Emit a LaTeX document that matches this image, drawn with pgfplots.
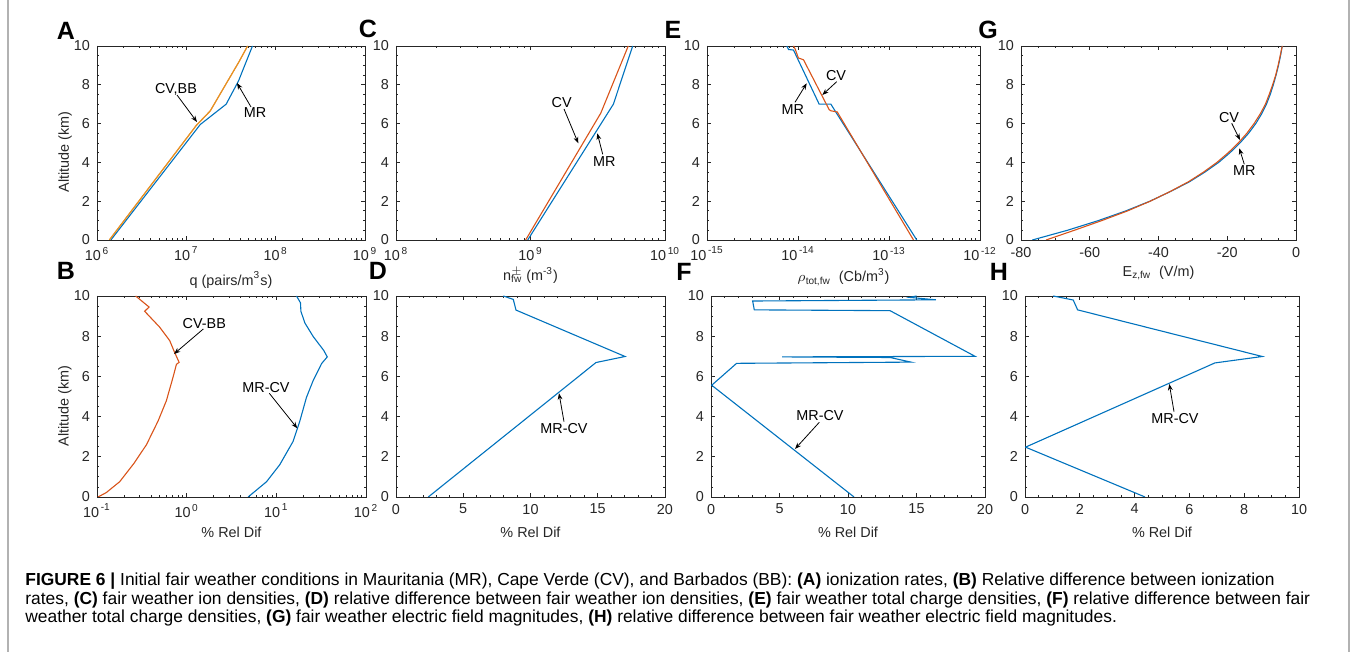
\documentclass[border=0pt]{standalone}
\usepackage{fontspec}
\setmainfont{Liberation Sans}
\usepackage{pgfplots}
\pgfplotsset{compat=1.18}
\usetikzlibrary{arrows.meta}

\definecolor{mrblue}{RGB}{0,114,189}
\definecolor{cvorange}{RGB}{217,83,25}
\definecolor{bbyellow}{RGB}{237,177,32}
\definecolor{axgray}{RGB}{38,38,38}

\newcommand{\fs}{\fontsize{7.2pt}{8.6pt}\selectfont}
\newcommand{\tp}[1]{10\textsuperscript{\,#1}}

\pgfplotsset{
  panel/.style={
    scale only axis, anchor=south west,
    ymin=0, ymax=10, ytick={0,2,...,10}, minor y tick num=3,
    axis line style={axgray, line width=0.45pt},
    tick style={axgray, line width=0.4pt},
    major tick length=2pt, minor tick length=1.2pt,
    tick label style={font=\fs, text=axgray},
    label style={font=\fs, text=axgray},
    xlabel style={at={(axis description cs:0.5,0)}, anchor=center},
    ylabel style={anchor=center},
    /pgf/number format/assume math mode=true,
    every axis plot/.append style={line width=0.55pt, no markers},
  },
  toprow/.style={panel, height=97pt},
  botrow/.style={panel, height=100.5pt},
}

\begin{document}
\begin{tikzpicture}
\path[use as bounding box] (0,0) rectangle (678pt,326pt);

% ---- A: ionization rates
\begin{axis}[toprow, at={(48.5pt,206pt)}, width=134pt,
  xmode=log, xmin=1e6, xmax=1e9, xtick={1e6,1e7,1e8,1e9},
  xticklabels={\tp{6},\tp{7},\tp{8},\tp{9}},
  xlabel={q (pairs/m\textsuperscript{3}s)}, xlabel style={yshift=-20pt},
  ylabel={Altitude (km)}, ylabel style={at={(axis description cs:-0.119,0.454)}}]
\addplot[mrblue] coordinates {(1.43e6,0) (1.43e7,5.95) (2.79e7,7.0) (3.84e7,8.2) (5.5e7,10)};
\addplot[cvorange] coordinates {(1.375e6,0) (1.29e7,5.9) (1.85e7,6.65) (3.9e7,9.2) (4.85e7,10)};
\addplot[bbyellow, opacity=0.7] coordinates {(1.375e6,0) (1.29e7,5.9) (1.85e7,6.65) (3.9e7,9.2) (4.85e7,10)};
\end{axis}

% ---- C: ion densities
\begin{axis}[toprow, at={(198pt,206pt)}, width=134.5pt,
  xmode=log, xmin=1e8, xmax=1e10, xtick={1e8,1e9,1e10},
  xticklabels={\tp{8},\tp{9},\tp{10}},
  xlabel={n\rlap{\textsuperscript{$\pm$}}\textsubscript{fw} (m\textsuperscript{-3})}, xlabel style={yshift=-17.5pt}]
\addplot[mrblue] coordinates {(9.53e8,0) (4.13e9,7.0) (5.75e9,10)};
\addplot[cvorange] coordinates {(9.2e8,0) (3.33e9,6.54) (5.33e9,10)};
\end{axis}

% ---- E: total charge densities
\begin{axis}[toprow, at={(353.5pt,206pt)}, width=136.5pt,
  xmode=log, xmin=1e-15, xmax=1e-12, xtick={1e-15,1e-14,1e-13,1e-12},
  xticklabels={\tp{-15},\tp{-14},\tp{-13},\tp{-12}},
  xlabel={$\rho$\textsubscript{tot,fw}\ \ (Cb/m\textsuperscript{3})}, xlabel style={yshift=-18.5pt}]
\addplot[mrblue] coordinates {(2.02e-13,0) (2.56e-14,6.65) (2.30e-14,7.0) (1.71e-14,7.0) (8.93e-15,9.79) (7.87e-15,9.82) (7.55e-15,10)};
\addplot[cvorange] coordinates {(1.86e-13,0) (2.7e-14,6.6) (2.3e-14,6.66) (2.2e-14,6.72) (1.15e-14,9.29) (1.01e-14,9.38) (9.3e-15,9.85) (8.93e-15,10)};
\end{axis}

% ---- G: electric field
\begin{axis}[toprow, at={(510.5pt,206pt)}, width=137.5pt,
  xmin=-80, xmax=0, xtick={-80,-60,-40,-20,0}, minor x tick num=3,
  xticklabels={-80,-60,-40,-20,0},
  xlabel={E\textsubscript{z,fw}\ \ (V/m)}, xlabel style={yshift=-16.5pt}]
\addplot[mrblue] coordinates {(-76.7,0) (-66.5,0.5) (-57.5,1) (-49.5,1.5) (-42.5,2) (-36.5,2.5) (-31.0,3) (-26.5,3.5) (-22.5,4) (-19.2,4.5) (-16.3,5) (-13.8,5.5) (-11.7,6) (-10.0,6.5) (-8.6,7) (-7.5,7.5) (-6.6,8) (-5.8,8.5) (-5.1,9) (-4.5,9.5) (-4.0,10)};
\addplot[cvorange] coordinates {(-72.7,0) (-64.5,0.5) (-56.5,1) (-49.0,1.5) (-42.4,2) (-36.6,2.5) (-31.3,3) (-26.9,3.5) (-23.0,4) (-19.7,4.5) (-16.8,5) (-14.3,5.5) (-12.2,6) (-10.4,6.5) (-8.9,7) (-7.8,7.5) (-6.8,8) (-5.9,8.5) (-5.2,9) (-4.6,9.5) (-4.0,10)};
\end{axis}

% ---- B: rel. dif. ionization
\begin{axis}[botrow, at={(48.5pt,77.5pt)}, width=134.5pt,
  xmode=log, xmin=1e-1, xmax=1e2, xtick={1e-1,1e0,1e1,1e2},
  xticklabels={\tp{-1},\tp{0},\tp{1},\tp{2}},
  xlabel={\% Rel Dif}, xlabel style={yshift=-17.5pt},
  ylabel={Altitude (km)}, ylabel style={at={(axis description cs:-0.119,0.453)}}]
\addplot[cvorange] coordinates {(0.1026,0) (0.127,0.22) (0.179,0.76) (0.259,1.68) (0.356,2.6) (0.48,3.78) (0.594,4.79) (0.706,5.97) (0.769,6.6) (0.824,6.7) (0.736,7.18) (0.647,7.78) (0.50,8.45) (0.34,9.24) (0.381,9.45) (0.27,10)};
\addplot[mrblue] coordinates {(4.85,0) (7.78,0.76) (10.9,1.6) (15.4,2.77) (18.3,3.78) (21.7,4.96) (25.8,5.8) (32.0,6.64) (37.0,6.97) (33.7,7.3) (25.8,7.98) (20.8,8.66) (18.8,9.24) (18.6,9.66) (16.8,10)};
\end{axis}

% ---- D
\begin{axis}[botrow, at={(198pt,77.5pt)}, width=134.5pt,
  xmin=0, xmax=20, xtick={0,5,...,20}, minor x tick num=4,
  xlabel={\% Rel Dif}, xlabel style={yshift=-17.5pt}]
\addplot[mrblue] coordinates {(2.40,0) (14.87,6.69) (17.03,6.99) (8.92,9.3) (8.72,9.83) (7.98,10)};
\end{axis}

% ---- F
\begin{axis}[botrow, at={(355.5pt,77.5pt)}, width=137pt,
  xmin=0, xmax=20, xtick={0,5,...,20}, minor x tick num=4,
  xlabel={\% Rel Dif}, xlabel style={yshift=-17.5pt}]
\addplot[mrblue] coordinates {(10.44,0) (0.05,5.56) (1.87,6.65) (14.6,6.71) (13.07,6.94) (5.2,6.97) (19.27,7.0) (13.07,9.27) (3.16,9.31) (3.04,9.75) (16.42,9.81) (14.5,9.93) (15.0,10)};
\end{axis}

% ---- H
\begin{axis}[botrow, at={(512.5pt,77.5pt)}, width=137pt,
  xmin=0, xmax=10, xtick={0,2,...,10}, minor x tick num=3,
  xlabel={\% Rel Dif}, xlabel style={yshift=-17.5pt}]
\addplot[mrblue] coordinates {(4.38,0) (0.02,2.48) (6.93,6.67) (8.66,6.99) (1.92,9.31) (1.76,9.8) (1.03,10)};
\end{axis}

% ---- letters, annotations, caption (pixel coordinates)
\begin{scope}[x=0.5pt, y=-0.5pt, yshift=326pt]
\draw[gray!60, line width=0.6pt] (8,0) -- (8,652) (1349,0) -- (1349,652);

\begin{scope}[font=\fontsize{12.5pt}{14pt}\selectfont\bfseries]
\node at (66,31) {A};
\node at (66,271) {B};
\node at (368,29) {C};
\node at (378,271) {D};
\node at (673,30) {E};
\node at (684,272) {F};
\node at (988,30) {G};
\node at (999,272) {H};
\end{scope}

\begin{scope}[font=\fs, every node/.style={inner sep=0pt}, >={Stealth[length=3.2pt,width=2.4pt]}, line width=0.4pt]
\node at (176,89) {CV,BB}; \draw[->] (177,95) -- (197,122);
\node at (255,113) {MR}; \draw[->] (251,107) -- (237,83);
\node at (561.7,102.7) {CV}; \draw[->] (564,109) -- (578.3,143.3);
\node at (604.3,161.7) {MR}; \draw[->] (602.7,154.3) -- (597.3,133.3);
\node at (836,76) {CV}; \draw[->] (836.7,81.7) -- (822.3,95);
\node at (792.7,109.3) {MR}; \draw[->] (795,102.3) -- (806.7,83.3);
\node at (1229,117.3) {CV}; \draw[->] (1231.7,123.3) -- (1240,140);
\node at (1244.3,171) {MR}; \draw[->] (1244.3,164.3) -- (1239.3,148.3);
\node at (204.3,323.3) {CV-BB}; \draw[->] (203.3,329) -- (174,354);
\node at (266,387.3) {MR-CV}; \draw[->] (269.3,393.3) -- (297.3,428.3);
\node at (564,428.3) {MR-CV}; \draw[->] (564,421.7) -- (559,393.3);
\node at (820,416) {MR-CV}; \draw[->] (819.3,422.3) -- (795,449);
\node at (1175,419) {MR-CV}; \draw[->] (1174,411.7) -- (1169.3,384);
\end{scope}

\begin{scope}[font=\fontsize{8.7pt}{10pt}\selectfont, every node/.style={inner sep=0pt, anchor=base west}]
\node at (25,586) {\textbf{FIGURE 6 |} Initial fair weather conditions in Mauritania (MR), Cape Verde (CV), and Barbados (BB): \textbf{(A)} ionization rates, \textbf{(B)} Relative difference between ionization};
\node at (25,604.5) {rates, \textbf{(C)} fair weather ion densities, \textbf{(D)} relative difference between fair weather ion densities, \textbf{(E)} fair weather total charge densities, \textbf{(F)} relative difference between fair};
\node at (25,623) {weather total charge densities, \textbf{(G)} fair weather electric field magnitudes, \textbf{(H)} relative difference between fair weather electric field magnitudes.};
\end{scope}
\end{scope}
\end{tikzpicture}
\end{document}
